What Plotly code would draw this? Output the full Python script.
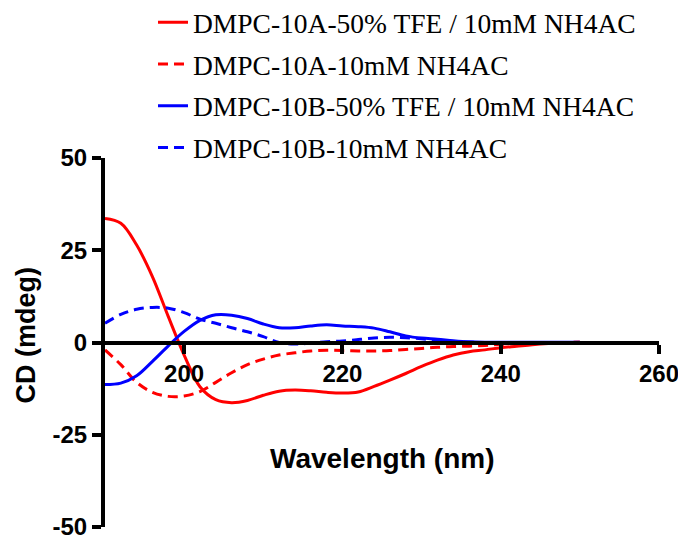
import plotly.graph_objects as go

# Wavelength grid (nm)
wavelength = [190, 192, 194, 196, 198, 200, 202, 204, 206, 208, 210, 212, 214, 216, 218, 220,
              222, 224, 226, 228, 230, 232, 234, 236, 238, 240, 242, 244, 246, 248, 250]

# DMPC-10A-50% TFE / 10mM NH4AC (red solid)
cd_10a_tfe = [33.6, 32.3, 26.4, 17.8, 7.0, -3.4, -12.0, -15.5, -16.3, -15.7, -14.3, -13.2, -12.9, -13.1, -13.5, -13.7,
              -13.4, -11.9, -10.2, -8.4, -6.5, -4.8, -3.4, -2.5, -2.0, -1.4, -1.0, -0.6, -0.3, -0.1, 0.1]

# DMPC-10A-10mM NH4AC (red dashed)
cd_10a_buf = [-2.0, -6.0, -10.8, -13.5, -14.6, -14.5, -13.3, -10.8, -8.2, -6.0, -4.5, -3.4, -2.8, -2.3, -2.1, -2.2,
              -2.3, -2.3, -2.2, -1.9, -1.6, -1.3, -1.1, -1.0, -0.8, -0.5, -0.3, -0.2, -0.1, 0.0, 0.1]

# DMPC-10B-50% TFE / 10mM NH4AC (blue solid)
cd_10b_tfe = [-11.4, -11.0, -9.0, -5.1, -0.9, 3.0, 6.0, 7.5, 7.4, 6.5, 5.0, 4.0, 4.0, 4.5, 4.8, 4.5,
              4.3, 3.9, 2.9, 1.8, 1.2, 0.9, 0.5, 0.2, 0.1, 0.1, 0.1, 0.1, 0.1, 0.1, 0.1]

# DMPC-10B-10mM NH4AC (blue dashed)
cd_10b_buf = [5.2, 7.6, 9.0, 9.5, 9.3, 8.1, 6.3, 5.2, 4.0, 2.9, 1.6, 0.0, -0.4, -0.2, 0.2, 0.4,
              0.8, 1.2, 1.4, 1.3, 1.0, 0.6, 0.3, 0.1, 0.0, 0.0, 0.0, 0.0, 0.0, 0.0, 0.0]

series_names = ["DMPC-10A-50% TFE / 10mM NH4AC", "DMPC-10A-10mM NH4AC",
                "DMPC-10B-50% TFE / 10mM NH4AC", "DMPC-10B-10mM NH4AC"]
series_values = [cd_10a_tfe, cd_10a_buf, cd_10b_tfe, cd_10b_buf]
series_colors = ["#FF0000", "#FF0000", "#0000FF", "#0000FF"]
series_dash = ["solid", "10px,6px", "solid", "10px,6px"]

x_tickvals = [200, 220, 240, 260]
x_ticktext = ["200", "220", "240", "260"]
y_tickvals = [-50, -25, 0, 25, 50]
y_ticktext = ["-50", "-25", "0", "25", "50"]

fig = go.Figure()
for i, (name, vals, col, dash) in enumerate(zip(series_names, series_values, series_colors, series_dash)):
    fig.add_trace(go.Scatter(
        x=wavelength, y=vals, name=name, mode="lines",
        line=dict(color=col, width=3, dash=dash, shape="spline", smoothing=1.0),
        legendgroup=f"g{i}",
    ))

tick_font = dict(family="Liberation Sans", size=24, color="black", weight="bold")

# the page body has an 8px margin, so the figure is sized to fit the window
W, H = 678, 535
fig.update_layout(
    width=W, height=H,
    margin=dict(l=97, r=27, t=150, b=16, autoexpand=False),
    paper_bgcolor="white", plot_bgcolor="white",
    showlegend=True,
    legend=dict(
        xref="container", yref="paper",
        x=145 / W, y=1.434, xanchor="left", yanchor="top",
        font=dict(family="Liberation Serif", size=27.5, color="black"),
        tracegroupgap=3, bgcolor="rgba(0,0,0,0)", itemwidth=30,
    ),
    xaxis=dict(
        range=[190, 260], anchor="free", position=0.5,
        showline=True, linecolor="black", linewidth=4,
        ticks="outside", ticklen=9, tickwidth=4, tickcolor="black",
        tickvals=x_tickvals, ticktext=x_ticktext, tickfont=tick_font,
        showgrid=False, zeroline=False,
    ),
    yaxis=dict(
        range=[-50, 50], domain=[0, 1],
        showline=True, linecolor="black", linewidth=4,
        ticks="outside", ticklen=9, tickwidth=4, tickcolor="black",
        tickvals=y_tickvals, ticktext=y_ticktext, tickfont=tick_font,
        showgrid=False, zeroline=False,
    ),
    annotations=[
        dict(text="Wavelength (nm)", xref="paper", yref="paper", x=0.5, y=(527 - 458) / 369,
             xanchor="center", yanchor="middle", showarrow=False,
             font=dict(family="Liberation Sans", size=28, color="black", weight="bold")),
        dict(text="CD (mdeg)", xref="paper", yref="paper", x=(25 - 105) / 554, y=(527 - 335.5) / 369,
             xanchor="center", yanchor="middle", showarrow=False, textangle=-90,
             font=dict(family="Liberation Sans", size=27, color="black", weight="bold")),
    ],
)

fig.write_html("out.html")
